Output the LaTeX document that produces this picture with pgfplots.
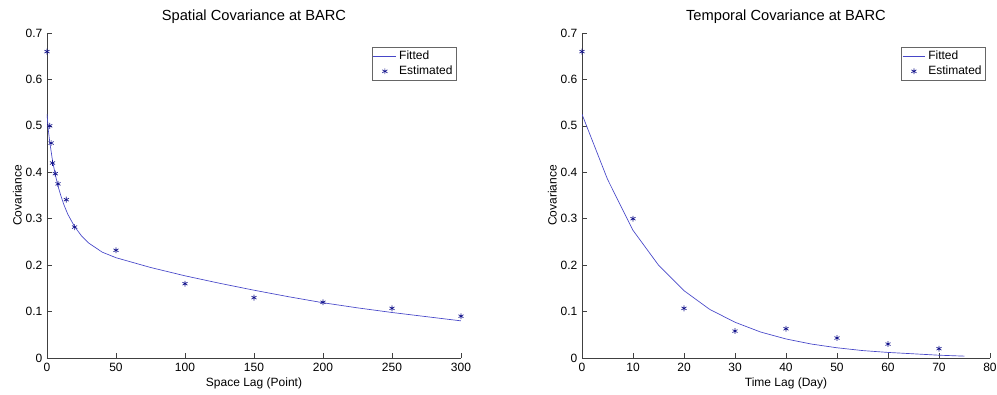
\documentclass[border=0pt]{standalone}
\usepackage{pgfplots}
\pgfplotsset{compat=1.18}
\usepackage{fontspec}
\setmainfont{Liberation Sans}
\definecolor{fitc}{RGB}{70,70,200}
\definecolor{estc}{RGB}{20,20,140}
\pgfplotsset{
  mystyle/.style={
    scale only axis,
    axis lines*=left,
    axis line style={black!75, line width=0.5pt},
    tick align=inside,
    tick style={black!75, line width=0.5pt},
    major tick length=3.5pt,
    ymin=0, ymax=0.7,
    ytick={0,0.1,...,0.7},
    yticklabel style={/pgf/number format/fixed, /pgf/number format/precision=1},
    /pgf/number format/assume math mode=true,
    font=\fontsize{9}{10}\selectfont,
    title style={font=\fontsize{11}{13}\selectfont, yshift=-2.5pt},
    label style={font=\fontsize{9}{10}\selectfont},
    ylabel={Covariance},
    ylabel style={yshift=-4pt},
    xlabel style={yshift=2pt},
    legend style={at={(0.99,0.957)}, anchor=north east, draw=black!60, font=\fontsize{9}{10}\selectfont, inner sep=1pt, row sep=-1pt, cells={anchor=west}},
    legend cell align=left,
  }
}
\begin{document}
\begin{tikzpicture}
\useasboundingbox (-35.25pt,-27.75pt) rectangle (712.5pt,268.5pt);
\begin{axis}[mystyle, at={(0pt,0pt)}, anchor=south west,
  width=310.5pt, height=243.75pt,
  xmin=0, xmax=300, xtick={0,50,...,300},
  title={Spatial Covariance at BARC},
  xlabel={Space Lag (Point)}]
\addplot[fitc, line width=0.5pt] coordinates {
(0,0.525) (1,0.49) (2,0.465) (3,0.445) (4,0.425) (6,0.395) (8,0.37) (10,0.35) (12,0.332) (15,0.31) (20,0.283) (25,0.263) (30,0.248) (40,0.228) (50,0.216) (75,0.195) (100,0.177) (125,0.161) (150,0.146) (175,0.132) (200,0.119) (225,0.108) (250,0.098) (275,0.089) (300,0.08)};
\addlegendentry{Fitted}
\addplot[only marks, mark=asterisk, mark size=2.2pt, estc, mark options={line width=0.5pt}] coordinates {
(0,0.66) (2,0.5) (3,0.463) (4,0.42) (6,0.397) (8,0.375) (14,0.341) (20,0.282) (50,0.232) (100,0.16) (150,0.13) (200,0.12) (250,0.107) (300,0.09)};
\addlegendentry{Estimated}
\end{axis}
\begin{axis}[mystyle, at={(401.25pt,0pt)}, anchor=south west,
  width=306pt, height=243.75pt,
  xmin=0, xmax=80, xtick={0,10,...,80},
  title={Temporal Covariance at BARC},
  xlabel={Time Lag (Day)}]
\addplot[fitc, line width=0.5pt] coordinates {
(0,0.525) (5,0.385) (10,0.275) (15,0.2) (20,0.145) (25,0.105) (30,0.077) (35,0.056) (40,0.041) (45,0.03) (50,0.022) (55,0.016) (60,0.012) (65,0.009) (70,0.006) (75,0.004)};
\addlegendentry{Fitted}
\addplot[only marks, mark=asterisk, mark size=2.2pt, estc, mark options={line width=0.5pt}] coordinates {
(0,0.66) (10,0.3) (20,0.107) (30,0.058) (40,0.063) (50,0.043) (60,0.03) (70,0.02)};
\addlegendentry{Estimated}
\end{axis}
\end{tikzpicture}
\end{document}
